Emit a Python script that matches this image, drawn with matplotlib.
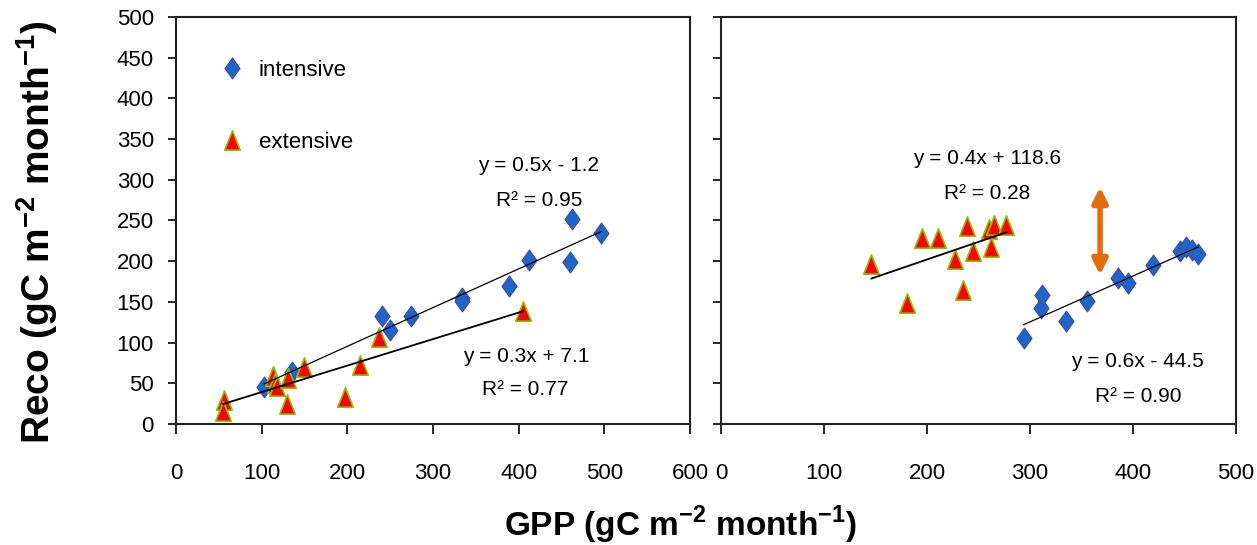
import numpy as np
import matplotlib
matplotlib.use('Agg')
import matplotlib.pyplot as plt
from matplotlib.path import Path

# intensive (diamonds) / extensive (triangles), left panel
left_int_x = [103, 135, 241, 250, 274, 334, 334, 389, 412, 462, 460, 496]
left_int_y = [46, 64, 133, 116, 133, 155, 151, 170, 201, 252, 199, 234]
left_ext_x = [56, 55, 113, 116, 118, 129, 131, 149, 197, 215, 237, 405]
left_ext_y = [30, 16, 59, 50, 47, 25, 56, 70, 33, 73, 107, 139]

# right panel
right_int_x = [294, 311, 312, 335, 355, 385, 395, 419, 446, 451, 457, 463]
right_int_y = [106, 142, 158, 126, 151, 179, 173, 195, 212, 217, 214, 209]
right_ext_x = [146, 181, 195, 211, 227, 235, 239, 245, 260, 262, 265, 277]
right_ext_y = [197, 149, 229, 229, 203, 164, 243, 212, 239, 218, 245, 245]

left_eq = [('y = 0.5x - 1.2', 423, 317), ('R² = 0.95', 424, 275),
           ('y = 0.3x + 7.1', 409, 83), ('R² = 0.77', 408, 42)]
right_eq = [('y = 0.4x + 118.6', 258, 326), ('R² = 0.28', 258, 283),
            ('y = 0.6x - 44.5', 404, 77), ('R² = 0.90', 405, 34)]

arrow_x = 368
arrow_y = (183, 291)

font = 'Liberation Sans'
plt.rcParams['font.family'] = [font, 'DejaVu Sans']
plt.rcParams['mathtext.fontset'] = 'custom'
plt.rcParams['mathtext.rm'] = font
plt.rcParams['mathtext.bf'] = font + ':bold'

diamond = Path([(0, 1), (0.72, 0), (0, -1), (-0.72, 0), (0, 1)],
               [Path.MOVETO, Path.LINETO, Path.LINETO, Path.LINETO, Path.CLOSEPOLY])
tri = Path([(-0.8, -1), (0.8, -1), (0, 1), (-0.8, -1)],
           [Path.MOVETO, Path.LINETO, Path.LINETO, Path.CLOSEPOLY])

blue = '#1f64c8'
blue_edge = '#3a4fa0'
red = '#ff0000'
green = '#8cc200'

fig = plt.figure(figsize=(12.57, 5.45), dpi=100)
ax1 = fig.add_axes([0.140, 0.222, 0.409, 0.747])
ax2 = fig.add_axes([0.5736, 0.222, 0.4097, 0.747])


def fit_line(ax, x, y, lw):
    p = np.polyfit(x, y, 1)
    xs = np.array([min(x), max(x)])
    ax.plot(xs, np.polyval(p, xs), color='black', lw=lw, zorder=3)


for ax, ix, iy, ex, ey, eqs, xmax in [
        (ax1, left_int_x, left_int_y, left_ext_x, left_ext_y, left_eq, 600),
        (ax2, right_int_x, right_int_y, right_ext_x, right_ext_y, right_eq, 500)]:
    ax.plot(ix, iy, linestyle='none', marker=diamond, ms=15, mfc=blue,
            mec=blue_edge, mew=0.8, label='intensive', zorder=2)
    ax.plot(ex, ey, linestyle='none', marker=tri, ms=14, mfc=red,
            mec=green, mew=1.2, label='extensive', zorder=2)
    fit_line(ax, ix, iy, 0.9)
    fit_line(ax, ex, ey, 1.3)
    for s, tx, ty in eqs:
        ax.text(tx, ty, s, ha='center', va='center', fontsize=15)
    ax.set_xlim(0, xmax)
    ax.set_ylim(0, 500)
    ax.set_xticks(np.arange(0, xmax + 1, 100))
    ax.set_yticks(np.arange(0, 501, 50))
    ax.tick_params(axis='x', length=7, width=1.2, pad=21, labelsize=16)
    ax.tick_params(axis='y', length=6, width=1.2, pad=10, labelsize=16)
    for sp in ax.spines.values():
        sp.set_linewidth(1.5)
        sp.set_color('#222222')

ax2.set_yticklabels([])

ax1.legend(loc='upper left', bbox_to_anchor=(0.088, 0.895), frameon=False,
           fontsize=16, labelspacing=2.3, handlelength=1.0, handletextpad=0.7,
           borderpad=0, borderaxespad=0)

ax2.annotate('', xy=(arrow_x, arrow_y[1]), xytext=(arrow_x, arrow_y[0]),
             arrowprops=dict(arrowstyle='<|-|>', color='#e46c0a', lw=4,
                             mutation_scale=22, shrinkA=0, shrinkB=0))

fig.text(0.541, 0.016, 'GPP (gC m$^{\\mathbf{-2}}$ month$^{\\mathbf{-1}}$)',
         ha='center', va='baseline', fontsize=24, fontweight='bold')
fig.text(0.040, 0.574, 'Reco (gC m$^{\\mathbf{-2}}$ month$^{\\mathbf{-1}}$)',
         ha='center', va='baseline', fontsize=28, fontweight='bold',
         rotation=90, rotation_mode='anchor')

fig.savefig('out.png', dpi=100)
